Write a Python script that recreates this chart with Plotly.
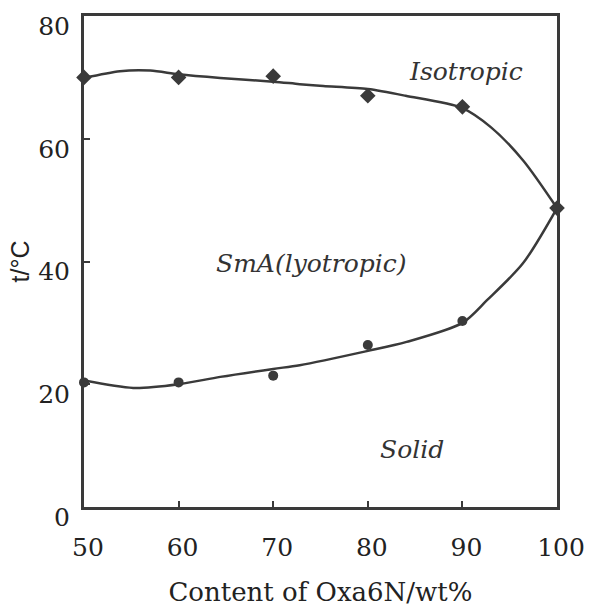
import plotly.graph_objects as go

# Measured data points
x_points = [50, 60, 70, 80, 90, 100]
upper_points = [70.0, 70.0, 70.2, 67.0, 65.2, 48.7]
lower_points = [20.3, 20.3, 21.4, 26.4, 30.3, 48.7]

# Fitted curves
upper_curve_x = [50, 53.8, 57, 60, 64.4, 70, 72.8, 75.3, 80, 84, 90, 93, 96.4, 100]
upper_curve_y = [69.9, 71.0, 71.1, 70.5, 69.9, 69.3, 68.9, 68.6, 68.1, 67.0, 65.0, 61.9, 56.5, 48.7]
lower_curve_x = [50, 55.2, 60, 64.4, 70, 72.8, 79.9, 84.1, 90, 92.6, 96.4, 100]
lower_curve_y = [20.6, 19.4, 20.0, 21.2, 22.5, 23.1, 25.4, 26.9, 30.0, 33.7, 39.7, 48.7]

x_ticks = [50, 60, 70, 80, 90, 100]
y_ticks = [0, 20, 40, 60, 80]

labels = ["Isotropic", "SmA(lyotropic)", "Solid"]
label_x = [90.4, 74.0, 84.7]
label_y = [71.0, 39.6, 9.4]

serif = "DejaVu Serif"
col = "#3a3a3a"
fig = go.Figure()
fig.add_trace(go.Scatter(x=upper_curve_x, y=upper_curve_y, mode="lines",
                         line=dict(color=col, width=2.5, shape="spline", smoothing=0.8),
                         showlegend=False, cliponaxis=False))
fig.add_trace(go.Scatter(x=lower_curve_x, y=lower_curve_y, mode="lines",
                         line=dict(color=col, width=2.5, shape="spline", smoothing=0.8),
                         showlegend=False, cliponaxis=False))
fig.add_trace(go.Scatter(x=x_points, y=upper_points, mode="markers",
                         marker=dict(symbol="diamond", size=12, color=col),
                         showlegend=False, cliponaxis=False))
fig.add_trace(go.Scatter(x=x_points, y=lower_points, mode="markers",
                         marker=dict(symbol="circle", size=10, color=col),
                         showlegend=False, cliponaxis=False))

for t, xx, yy in zip(labels, label_x, label_y):
    fig.add_annotation(x=xx, y=yy, text="<i>%s</i>" % t, showarrow=False,
                       font=dict(family=serif, size=25, color="#333"))

fig.update_layout(
    width=590, height=608,
    margin=dict(l=84, r=33, t=16, b=101, autoexpand=False),
    paper_bgcolor="white", plot_bgcolor="white",
    font=dict(family=serif, size=22, color="#222"),
)
fig.update_xaxes(range=[50, 100], tickvals=x_ticks, ticks="inside", ticklen=6,
                 tickwidth=2, tickcolor=col, showline=True, linewidth=3, linecolor=col,
                 mirror=True, showgrid=False, zeroline=False, automargin=False,
                 tickfont=dict(family=serif, size=25),
                 ticklabelshift=4, ticklabelstandoff=16,
                 title=dict(text="Content of Oxa6N/wt%",
                            font=dict(family=serif, size=26), standoff=22))
fig.update_yaxes(range=[0, 80], tickvals=y_ticks, ticks="inside", ticklen=6,
                 tickwidth=2, tickcolor=col, showline=True, linewidth=3, linecolor=col,
                 mirror=True, showgrid=False, zeroline=False, automargin=False,
                 tickfont=dict(family=serif, size=25),
                 ticklabelshift=10, ticklabelstandoff=6,
                 title=dict(text="t/°C", font=dict(family="Liberation Sans, DejaVu Sans, sans-serif", size=25),
                            standoff=2))
fig.write_html("out.html", config={"displayModeBar": False},
               post_script="document.body.style.margin='0';document.body.style.padding='0';")
